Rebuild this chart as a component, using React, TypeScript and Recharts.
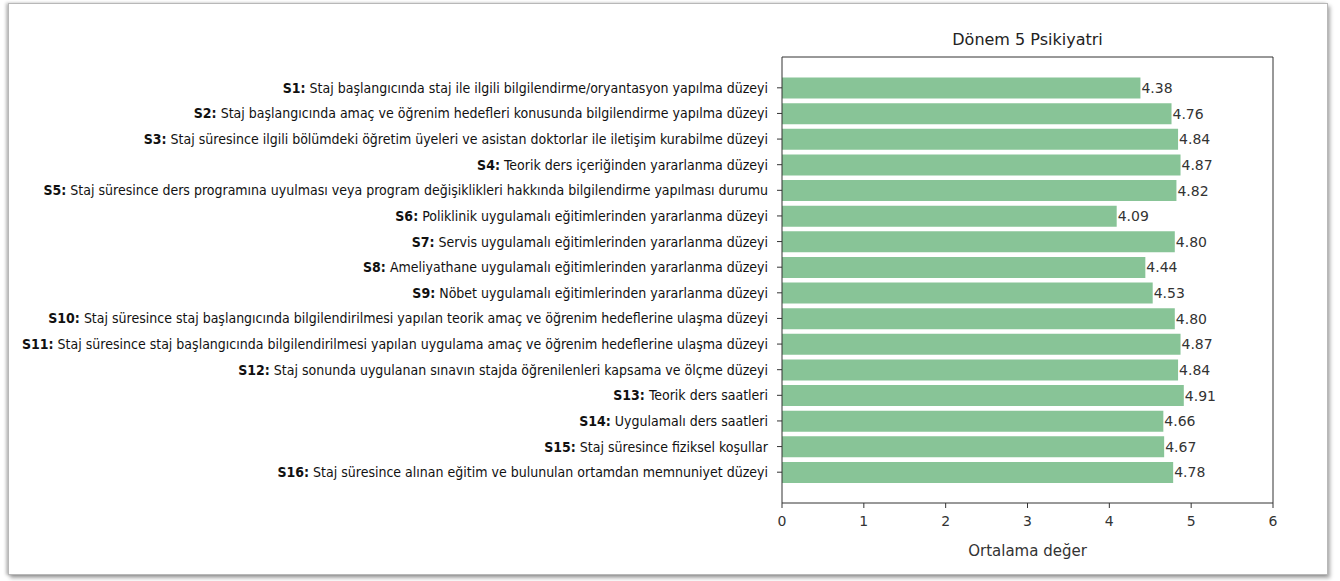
import { Bar, BarChart, LabelList, XAxis, YAxis } from "recharts";

const codes = [
  "S1", "S2", "S3", "S4", "S5", "S6", "S7", "S8",
  "S9", "S10", "S11", "S12", "S13", "S14", "S15", "S16",
];

const questions = [
  "Staj başlangıcında staj ile ilgili bilgilendirme/oryantasyon yapılma düzeyi",
  "Staj başlangıcında amaç ve öğrenim hedefleri konusunda bilgilendirme yapılma düzeyi",
  "Staj süresince ilgili bölümdeki öğretim üyeleri ve asistan doktorlar ile iletişim kurabilme düzeyi",
  "Teorik ders içeriğinden yararlanma düzeyi",
  "Staj süresince ders programına uyulması veya program değişiklikleri hakkında bilgilendirme yapılması durumu",
  "Poliklinik uygulamalı eğitimlerinden yararlanma düzeyi",
  "Servis uygulamalı eğitimlerinden yararlanma düzeyi",
  "Ameliyathane uygulamalı eğitimlerinden yararlanma düzeyi",
  "Nöbet uygulamalı eğitimlerinden yararlanma düzeyi",
  "Staj süresince staj başlangıcında bilgilendirilmesi yapılan teorik amaç ve öğrenim hedeflerine ulaşma düzeyi",
  "Staj süresince staj başlangıcında bilgilendirilmesi yapılan uygulama amaç ve öğrenim hedeflerine ulaşma düzeyi",
  "Staj sonunda uygulanan sınavın stajda öğrenilenleri kapsama ve ölçme düzeyi",
  "Teorik ders saatleri",
  "Uygulamalı ders saatleri",
  "Staj süresince fiziksel koşullar",
  "Staj süresince alınan eğitim ve bulunulan ortamdan memnuniyet düzeyi",
];

const means = [
  4.38, 4.76, 4.84, 4.87, 4.82, 4.09, 4.8, 4.44,
  4.53, 4.8, 4.87, 4.84, 4.91, 4.66, 4.67, 4.78,
];

const xTicks = [0, 1, 2, 3, 4, 5, 6];

const rows = codes.map((code, i) => ({
  code,
  text: questions[i],
  mean: means[i],
}));

const mplFont = "'DejaVu Sans', sans-serif";
const labelFont = "'Liberation Sans Narrow', 'DejaVu Sans Condensed', 'Noto Sans', sans-serif";

function QuestionTick(props: any) {
  const { x, y, payload, index } = props;
  return (
    <text
      x={x}
      y={y}
      textAnchor="end"
      dominantBaseline="central"
      fontFamily={labelFont}
      fontSize={14}
      fill="#111"
    >
      <tspan fontWeight="bold">{payload.value}:</tspan>
      <tspan> {questions[index]}</tspan>
    </text>
  );
}

export default function App() {
  return (
    <div
      style={{
        position: "fixed",
        top: 0,
        left: 0,
        width: 1340,
        height: 581,
        background: "#fff",
        overflow: "hidden",
      }}
    >
      <div
        style={{
          position: "absolute",
          left: 8,
          top: 3,
          width: 1318,
          height: 570,
          border: "1px solid #b8b8b8",
          boxShadow: "2px 3px 4px rgba(0,0,0,0.35), -2px 0 3px rgba(0,0,0,0.25)",
          background: "#fff",
        }}
      />
      <div
        style={{
          position: "absolute",
          left: 782,
          width: 491,
          top: 30,
          textAlign: "center",
          fontFamily: mplFont,
          fontSize: 16,
          color: "#222",
        }}
      >
        Dönem 5 Psikiyatri
      </div>
      <div style={{ position: "absolute", left: 0, top: 0 }}>
        <BarChart
          width={1340}
          height={581}
          data={rows}
          layout="vertical"
          margin={{ top: 56, right: 66, bottom: 0, left: 0 }}
          barCategoryGap="10%"
        >
          <XAxis
            type="number"
            domain={[0, 6]}
            ticks={xTicks}
            height={78}
            tickSize={5}
            tickMargin={8}
            stroke="#333"
            tick={{ fill: "#333", fontSize: 14, fontFamily: mplFont }}
            label={{
              value: "Ortalama değer",
              position: "insideBottom",
              offset: 25,
              fill: "#333",
              fontSize: 15,
              fontFamily: mplFont,
            }}
          />
          <XAxis
            xAxisId="top"
            orientation="top"
            type="number"
            domain={[0, 6]}
            ticks={xTicks}
            height={1}
            tick={false}
            tickLine={false}
            stroke="#333"
          />
          <YAxis
            type="category"
            dataKey="code"
            width={782}
            tickSize={5}
            tickMargin={9}
            stroke="#333"
            interval={0}
            padding={{ top: 18, bottom: 18 }}
            tick={<QuestionTick />}
          />
          <YAxis
            yAxisId="right"
            orientation="right"
            type="category"
            dataKey="code"
            width={1}
            tick={false}
            tickLine={false}
            stroke="#333"
          />
          <Bar dataKey="mean" fill="#88c497" isAnimationActive={false}>
            <LabelList
              dataKey="mean"
              position="right"
              offset={1}
              formatter={(v: any) => Number(v).toFixed(2)}
              style={{ fill: "#333", fontSize: 14, fontFamily: mplFont }}
            />
          </Bar>
        </BarChart>
      </div>
    </div>
  );
}
